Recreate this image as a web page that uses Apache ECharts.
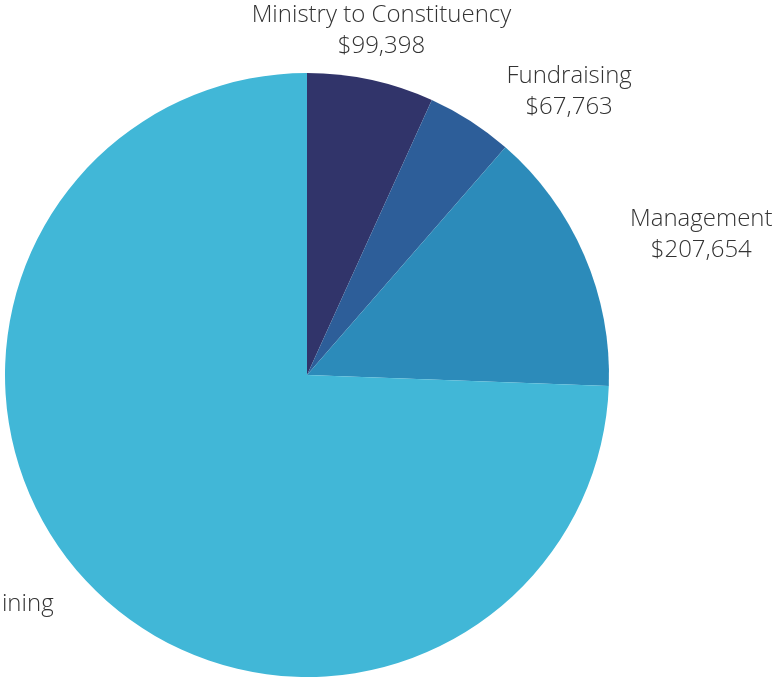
<!DOCTYPE html>
<html>
<head>
<meta charset="utf-8">
<script src="https://cdn.jsdelivr.net/npm/echarts@6/dist/echarts.min.js"></script>
<style>
html,body{margin:0;padding:0;background:#fff;}
#chart{width:775px;height:677px;}
</style>
</head>
<body>
<div id="chart"></div>
<script>
var categories = ['Ministry to Constituency', 'Fundraising', 'Management', 'Pastoral Leadership Training'];
var amounts = [99398, 67763, 207654, 1090450];
var colors = ['#31346A', '#2D5E99', '#2C8BBA', '#41B7D7'];

var total = amounts.reduce(function (a, b) { return a + b; }, 0);
var midAngles = [];
(function () {
  var acc = 0;
  for (var i = 0; i < amounts.length; i++) {
    midAngles.push((acc + amounts[i] / 2) / total * 360);
    acc += amounts[i];
  }
})();

function fmt(v) {
  return '$' + v.toString().replace(/\B(?=(\d{3})+(?!\d))/g, ',');
}

var chart = echarts.init(document.getElementById('chart'), null, { renderer: 'canvas' });
chart.setOption({
  backgroundColor: '#ffffff',
  animation: false,
  series: [{
    type: 'pie',
    left: -400,
    top: 0,
    width: 1575,
    height: 677,
    center: [707, 375],
    radius: 302,
    startAngle: 90,
    clockwise: true,
    avoidLabelOverlap: false,
    data: categories.map(function (c, i) {
      return { name: c, value: amounts[i], itemStyle: { color: colors[i] } };
    }),
    label: {
      show: true,
      position: 'outside',
      distanceToLabelLine: 0,
      formatter: function (p) { return p.name + '\n' + fmt(p.value); },
      fontFamily: 'Open Sans',
      fontWeight: 300,
      fontSize: 24,
      lineHeight: 31,
      color: '#333333'
    },
    labelLine: { show: false, length: 50, length2: 0 },
    emphasis: { disabled: true },
    labelLayout: function (p) {
      var deg = midAngles[p.dataIndex];
      var mid = deg * Math.PI / 180;
      var s = Math.sin(mid);
      var r = p.labelRect;
      var cx, cy = r.y + r.height / 2;
      if (Math.abs(s) < 0.35) {
        cx = s >= 0 ? r.x : r.x + r.width;
      } else {
        cx = r.x + r.width / 2;
      }
      if (deg > 20 && deg < 50) { cx += 9; cy += 13; }
      return { x: cx, y: cy, align: 'center', verticalAlign: 'middle' };
    }
  }]
});
</script>
</body>
</html>
